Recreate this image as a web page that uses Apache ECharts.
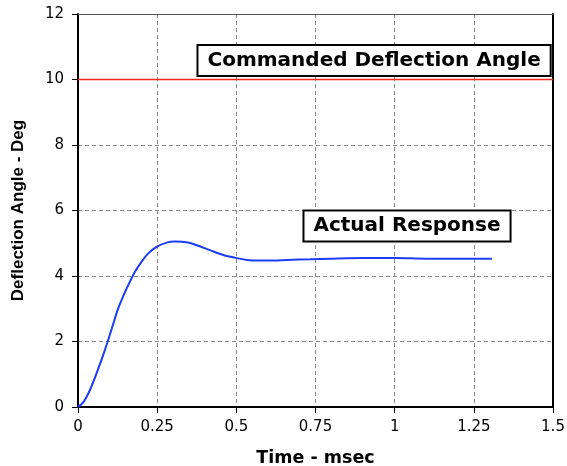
<!DOCTYPE html>
<html>
<head>
<meta charset="utf-8">
<script src="https://cdn.jsdelivr.net/npm/echarts@6/dist/echarts.min.js"></script>
<style>
html,body{margin:0;padding:0;background:#fff;}
#c{width:567px;height:466px;}
</style>
</head>
<body>
<div id="c"></div>
<script>
// Data
var timeMs = [0, 0.017, 0.033, 0.048, 0.064, 0.080, 0.096, 0.112, 0.127, 0.148, 0.164, 0.180, 0.201, 0.222, 0.248, 0.280, 0.306, 0.348, 0.375, 0.417, 0.459, 0.490, 0.533, 0.575, 0.620, 0.660, 0.733, 0.800, 0.900, 1.000, 1.100, 1.200, 1.307];
var actualDeg = [0, 0.15, 0.42, 0.76, 1.17, 1.60, 2.07, 2.56, 3.01, 3.50, 3.83, 4.13, 4.44, 4.69, 4.89, 5.02, 5.05, 5.02, 4.94, 4.79, 4.64, 4.57, 4.49, 4.47, 4.47, 4.49, 4.51, 4.53, 4.55, 4.55, 4.53, 4.53, 4.53];
var commandedDeg = 10;
var xTicks = [0, 0.25, 0.5, 0.75, 1, 1.25, 1.5];
var yTicks = [0, 2, 4, 6, 8, 10, 12];
var annotationText = ['Commanded Deflection Angle', 'Actual Response'];
var annotationX = [0.935, 1.039];
var annotationY = [10.58, 5.53];

var chart = echarts.init(document.getElementById('c'), null, {renderer: 'canvas'});
var hFont = 'DejaVu Sans';

var actualData = timeMs.map(function (t, i) { return [t, actualDeg[i]]; });
var commandedData = [[xTicks[0], commandedDeg], [xTicks[xTicks.length - 1], commandedDeg]];

var option = {
  backgroundColor: '#ffffff',
  animation: false,
  grid: {left: 78, right: 14, top: 14, bottom: 59, show: false, containLabel: false, outerBoundsMode: 'none'},
  xAxis: [{
    type: 'value', min: xTicks[0], max: xTicks[xTicks.length - 1], interval: 0.25,
    name: 'Time - msec', nameLocation: 'middle', nameGap: 42,
    nameTextStyle: {fontFamily: hFont, fontWeight: 'bold', fontSize: 17.5, color: '#000'},
    axisLine: {show: true, onZero: false, lineStyle: {color: '#000', width: 2}},
    axisTick: {show: true, inside: false, length: 6, lineStyle: {color: '#000', width: 1}},
    axisLabel: {fontFamily: hFont, fontSize: 15, color: '#000', margin: 13},
    splitLine: {show: true, lineStyle: {color: '#8a8a8a', type: [4, 3], width: 1}}
  }, {
    type: 'value', position: 'top', min: xTicks[0], max: xTicks[xTicks.length - 1],
    axisLine: {show: true, onZero: false, lineStyle: {color: '#555', width: 1}},
    axisTick: {show: false}, axisLabel: {show: false}, splitLine: {show: false}
  }],
  yAxis: [{
    type: 'value', min: yTicks[0], max: yTicks[yTicks.length - 1], interval: 2,
    name: 'Deflection Angle - Deg', nameLocation: 'middle', nameGap: 51, nameRotate: 90,
    nameTextStyle: {fontFamily: 'Liberation Sans', fontWeight: 'bold', fontSize: 17, color: '#000'},
    axisLine: {show: true, onZero: false, lineStyle: {color: '#000', width: 2}},
    axisTick: {show: true, inside: false, length: 6, lineStyle: {color: '#000', width: 1}},
    axisLabel: {fontFamily: hFont, fontSize: 15, color: '#000', margin: 14},
    splitLine: {show: true, lineStyle: {color: '#8a8a8a', type: [4, 3], width: 1}}
  }, {
    type: 'value', position: 'right', min: yTicks[0], max: yTicks[yTicks.length - 1],
    axisLine: {show: true, onZero: false, lineStyle: {color: '#000', width: 2}},
    axisTick: {show: false}, axisLabel: {show: false}, splitLine: {show: false}
  }],
  series: [{
    type: 'line', name: 'Commanded', data: commandedData, showSymbol: false, symbol: 'none', clip: true,
    lineStyle: {color: '#ee2a22', width: 1.5}, z: 3
  }, {
    type: 'line', name: 'Actual', data: actualData, showSymbol: false, symbol: 'none',
    smooth: 0.3, clip: true,
    lineStyle: {color: '#1c3cf5', width: 2}, z: 4
  }]
};
chart.setOption(option);

var graphics = annotationText.map(function (s, i) {
  var p = chart.convertToPixel({gridIndex: 0}, [annotationX[i], annotationY[i]]);
  return {
    type: 'text', x: p[0], y: p[1], z: 100,
    style: {
      text: s, fill: '#000', font: 'bold 20px "DejaVu Sans"',
      align: 'center', verticalAlign: 'middle',
      backgroundColor: '#fff', borderColor: '#000', borderWidth: 2,
      padding: [4, 9, 3, 9], lineHeight: 22
    }
  };
});
chart.setOption({graphic: graphics});
</script>
</body>
</html>
